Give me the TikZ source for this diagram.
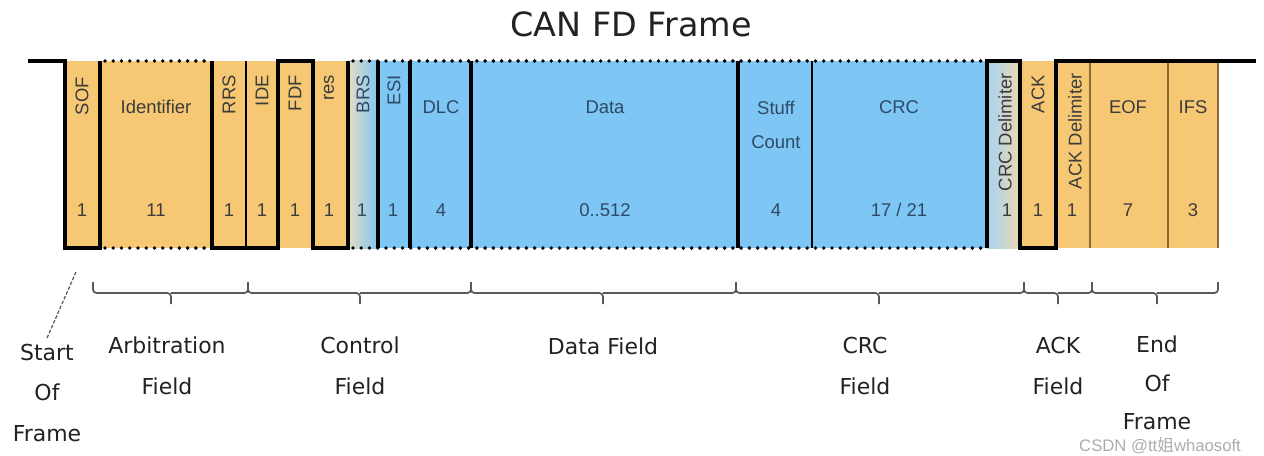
\documentclass[tikz,border=0pt]{standalone}
\usepackage{fontspec}
\setmainfont{Liberation Sans}
\newfontfamily\dejavu{DejaVu Sans}
\newfontfamily\cjk{Noto Sans CJK SC}
\usetikzlibrary{positioning}
\definecolor{canorange}{HTML}{F6C873}
\definecolor{canblue}{HTML}{7EC6F4}
\definecolor{brsleft}{HTML}{E6DCC4}
\definecolor{crcleft}{HTML}{A6D4F2}
\definecolor{crcright}{HTML}{EBD8B2}
\definecolor{txtgray}{HTML}{3C3C3C}
\definecolor{txtblue}{HTML}{2E4A66}
\definecolor{rimbrown}{HTML}{8A6A30}
\definecolor{bracegray}{HTML}{5A5A5A}
\definecolor{fieldgray}{HTML}{222222}

\begin{document}
\begin{tikzpicture}[x=0.02cm, y=-0.02cm,
    wave/.style={line width=2.3pt},
    dots/.style={line width=2.2pt, line cap=round, dash pattern=on 0pt off 4.7pt},
    sep/.style={line width=2.2pt},
    thinsep/.style={line width=0.8pt, rimbrown},
    vlabel/.style={rotate=90, anchor=east, inner sep=0pt, text=txtgray, font=\fontsize{10.5}{12}\selectfont},
    hlabel/.style={inner sep=0pt, text=txtgray, font=\fontsize{10.5}{12}\selectfont},
    bits/.style={hlabel},
    field/.style={align=center, text=fieldgray, font=\dejavu\fontsize{12.5}{23}\selectfont},
    fieldbrace/.style={draw=bracegray, line width=1pt, rounded corners=2pt},
    slash/.style={bracegray, line width=0.7pt, dash pattern=on 2pt off 1pt}]

\useasboundingbox (0,0) rectangle (1264,456);

\node[font=\dejavu\fontsize{19}{22}\selectfont, text=fieldgray] (title) at (631,24) {CAN FD Frame};

\fill[canorange] (65,61) rectangle (348,248);
\shade[left color=brsleft, right color=canblue] (348,61) rectangle (378,248);
\fill[canblue] (378,61) rectangle (987,248);
\shade[left color=crcleft, right color=crcright] (987,61) rectangle (1020,248);
\fill[canorange] (1020,61) rectangle (1218,248);

\draw[line width=0.7pt] (246,61) -- (246,248);
\foreach \x in {1090,1168,1218}
    \draw[thinsep] (\x,61) -- (\x,248);
\foreach \x in {378,410,471,738}
    \draw[sep] (\x,61) -- (\x,248);
\draw[line width=1.3pt] (812,61) -- (812,248);

\draw[dots] (105,61) -- (209,61);
\draw[dots] (105,248) -- (209,248);
\draw[dots] (353,61) -- (984,61);
\draw[dots] (353,248) -- (984,248);

\draw[wave] (28,61) -- (65,61) -- (65,248) -- (100,248) -- (100,61);
\draw[wave] (212,61) -- (212,248) -- (278,248) -- (278,61) -- (313,61) -- (313,248) -- (348,248) -- (348,61);
\draw[wave] (987,248) -- (987,61) -- (1020,61) -- (1020,248) -- (1056,248) -- (1056,61) -- (1256,61);

\node[vlabel] (sof) at (82,77) {SOF};
\node[hlabel] (ident) at (156,107) {Identifier};
\node[vlabel] (rrs) at (229,75) {RRS};
\node[vlabel] (ide) at (262,75) {IDE};
\node[vlabel] (fdf) at (295,75) {FDF};
\node[vlabel] (res) at (329,75) {res};
\node[vlabel, text=txtblue] (brs) at (363,75) {BRS};
\node[vlabel, text=txtblue] (esi) at (394,75) {ESI};
\node[hlabel, text=txtblue] (dlc) at (441,107) {DLC};
\node[hlabel, text=txtblue] (data) at (605,107) {Data};
\node[hlabel, text=txtblue, align=center, font=\fontsize{10.5}{19.5}\selectfont] (stuff) at (776,125) {Stuff\\Count};
\node[hlabel, text=txtblue] (crc) at (899,107) {CRC};
\node[vlabel] (crcdel) at (1005,73) {CRC Delimiter};
\node[vlabel] (ack) at (1038,75) {ACK};
\node[vlabel] (ackdel) at (1075,73) {ACK Delimiter};
\node[hlabel] (eof) at (1128,107) {EOF};
\node[hlabel] (ifs) at (1193,107) {IFS};

\foreach \x/\b [count=\i] in {82/1,156/11,229/1,262/1,295/1,329/1,1007/1,1038/1,1072/1,1128/7,1193/3}
    \node[bits] (bo\i) at (\x,210) {\b};
\foreach \x/\b [count=\i] in {362/1,393/1,441/4,605/0..512,776/4,899/{17 / 21}}
    \node[bits, text=txtblue] (bb\i) at (\x,210) {\b};

\foreach \a/\m/\b in {93/171/248,248/360/471,471/603/736,736/879/1024,1024/1058/1092,1092/1157/1218} {
    \draw[fieldbrace] (\a,282) -- (\a,293) -- (\m,293) -- (\m,304);
    \draw[fieldbrace] (\b,282) -- (\b,293) -- (\m,293);
}

\node[field] (start) at (47,393) {Start\\Of\\Frame};
\node[field] (arb) at (167,366) {Arbitration\\Field};
\node[field] (ctrl) at (360,366) {Control\\Field};
\node[field] (datafield) at (603,346) {Data Field};
\node[field] (crcfield) at (865,366) {CRC\\Field};
\node[field] (ackfield) at (1058,366) {ACK\\Field};
\node[field, font=\dejavu\fontsize{12.5}{22}\selectfont] (eofield) at (1157,383) {End\\Of\\Frame};

\coordinate (sofmark) at (76,272);
\draw[slash] (sofmark) -- (start.north);

\node[anchor=west, text=gray!65, font=\fontsize{9.5}{11}\selectfont] (mark) at (1073,446) {CSDN @tt{\cjk 姐}whaosoft};
\end{tikzpicture}
\end{document}
